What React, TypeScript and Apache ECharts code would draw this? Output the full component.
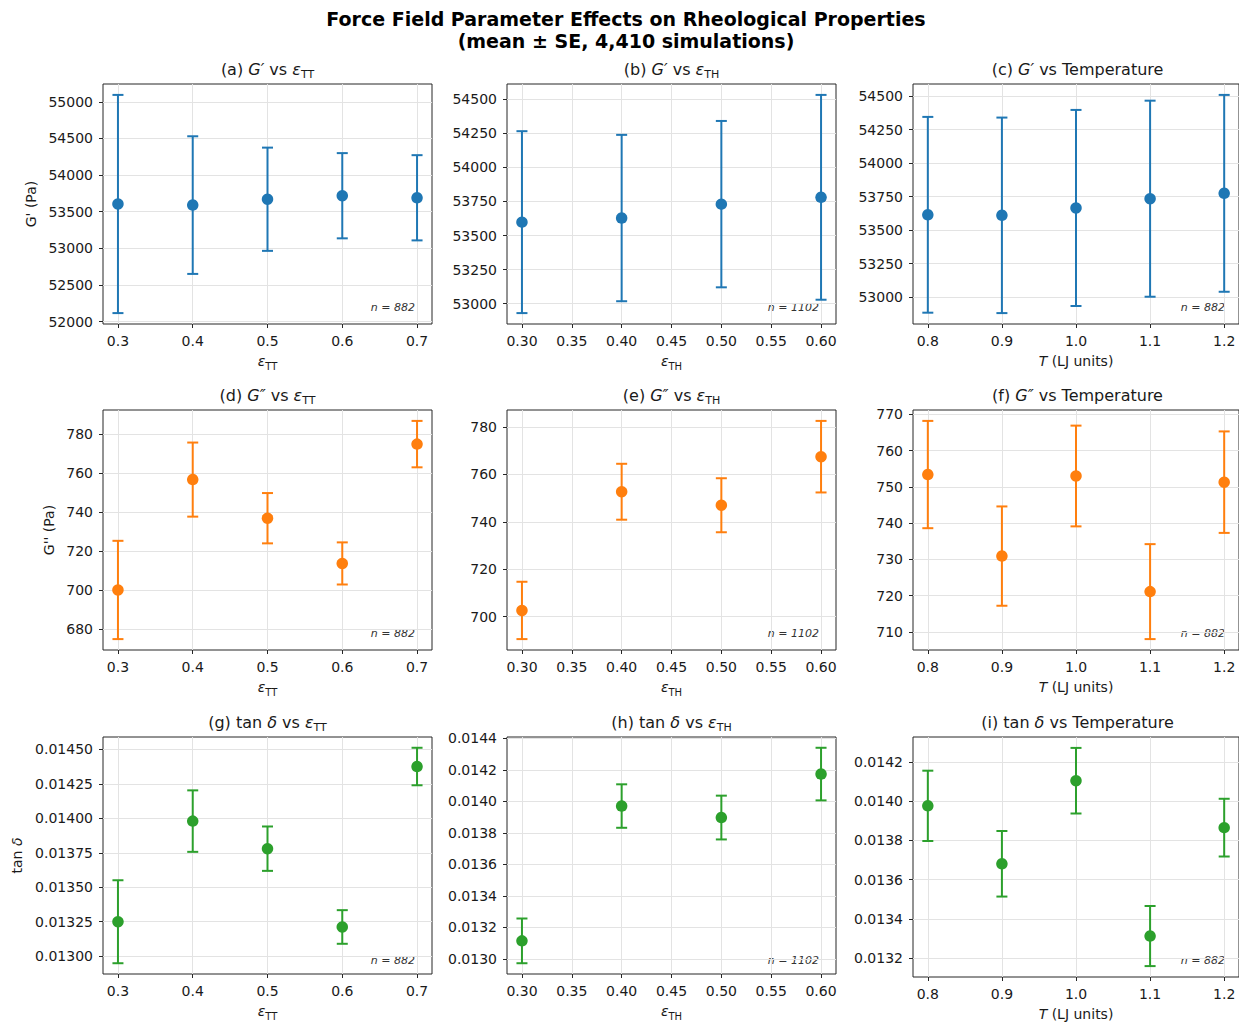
import React, { useEffect, useRef } from "react";
import * as echarts from "echarts";

// Parameter levels
const epsTT = [0.3, 0.4, 0.5, 0.6, 0.7];
const epsTH = [0.3, 0.4, 0.5, 0.6];
const temps = [0.8, 0.9, 1.0, 1.1, 1.2];

// Storage modulus G' (Pa): mean and standard error
const gpTTMean = [53605, 53590, 53670, 53718, 53690];
const gpTTSe = [1490, 940, 705, 582, 582];
const gpTHMean = [53598, 53628, 53730, 53780];
const gpTHSe = [667, 610, 610, 751];
const gpTMean = [53614, 53610, 53665, 53734, 53774];
const gpTSe = [730, 729, 731, 731, 734];

// Loss modulus G'' (Pa)
const gppTTMean = [700.0, 756.6, 736.8, 713.6, 774.8];
const gppTTSe = [25.2, 19.0, 12.9, 10.8, 11.9];
const gppTHMean = [702.6, 752.7, 747.0, 767.5];
const gppTHSe = [12.1, 11.8, 11.4, 15.1];
const gppTMean = [753.4, 730.9, 753.0, 721.1, 751.3];
const gppTSe = [14.8, 13.7, 13.9, 13.1, 14.0];

// Loss tangent tan(delta)
const tanTTMean = [0.01325, 0.01398, 0.01378, 0.013212, 0.014376];
const tanTTSe = [0.000301, 0.000223, 0.000161, 0.000122, 0.000136];
const tanTHMean = [0.013115, 0.013971, 0.013898, 0.014174];
const tanTHSe = [0.000142, 0.000138, 0.000139, 0.000167];
const tanTMean = [0.013976, 0.013681, 0.014104, 0.013313, 0.013865];
const tanTSe = [0.000179, 0.000167, 0.000167, 0.000153, 0.000147];

// Sample counts per group
const nTT = 882;
const nTH = 1102;
const nT = 882;

// Tick values
const xTicksTT = [0.3, 0.4, 0.5, 0.6, 0.7];
const xTicksTH = [0.3, 0.35, 0.4, 0.45, 0.5, 0.55, 0.6];
const xTicksT = [0.8, 0.9, 1.0, 1.1, 1.2];
const yTicksA = [52000, 52500, 53000, 53500, 54000, 54500, 55000];
const yTicksB = [53000, 53250, 53500, 53750, 54000, 54250, 54500];
const yTicksC = [53000, 53250, 53500, 53750, 54000, 54250, 54500];
const yTicksD = [680, 700, 720, 740, 760, 780];
const yTicksE = [700, 720, 740, 760, 780];
const yTicksF = [710, 720, 730, 740, 750, 760, 770];
const yTicksG = [0.013, 0.01325, 0.0135, 0.01375, 0.014, 0.01425, 0.0145];
const yTicksH = [0.013, 0.0132, 0.0134, 0.0136, 0.0138, 0.014, 0.0142, 0.0144];
const yTicksI = [0.0132, 0.0134, 0.0136, 0.0138, 0.014, 0.0142];

const BLUE = "#1f77b4";
const ORANGE = "#ff7f0e";
const GREEN = "#2ca02c";
const FONT = "DejaVu Sans";
const INK = "#1a1a1a";
const FRAME = "#262626";

const rich = {
  n: { fontSize: 16, fontFamily: FONT, color: INK, lineHeight: 22 },
  it: { fontSize: 16, fontFamily: FONT, fontStyle: "italic", color: INK, lineHeight: 22 },
  sub: { fontSize: 11, fontFamily: FONT, color: INK, lineHeight: 12, verticalAlign: "bottom" },
};
const richAxis = {
  n: { fontSize: 14, fontFamily: FONT, color: INK, lineHeight: 20 },
  it: { fontSize: 14, fontFamily: FONT, fontStyle: "italic", color: INK, lineHeight: 20 },
  sub: { fontSize: 10, fontFamily: FONT, color: INK, lineHeight: 11, verticalAlign: "bottom" },
};

const xNameTT = "{it|ε}{sub|TT}";
const xNameTH = "{it|ε}{sub|TH}";
const xNameT = "{it|T}{n| (LJ units)}";

const f1 = (v: number) => v.toFixed(1);
const f2 = (v: number) => v.toFixed(2);
const fInt = (v: number) => String(Math.round(v));
const f4 = (v: number) => v.toFixed(4);
const f5 = (v: number) => v.toFixed(5);

type Panel = {
  title: string;
  xs: number[];
  mean: number[];
  se: number[];
  color: string;
  xTicks: number[];
  yTicks: number[];
  xFmt: (v: number) => string;
  yFmt: (v: number) => string;
  xName: string;
  yName?: string;
  yGap?: number;
  n: number;
};

const panels: Panel[] = [
  { title: "{n|(a) }{it|G′}{n| vs }{it|ε}{sub|TT}", xs: epsTT, mean: gpTTMean, se: gpTTSe, color: BLUE, xTicks: xTicksTT, yTicks: yTicksA, xFmt: f1, yFmt: fInt, xName: xNameTT, yName: "{n|G' (Pa)}", yGap: 62, n: nTT },
  { title: "{n|(b) }{it|G′}{n| vs }{it|ε}{sub|TH}", xs: epsTH, mean: gpTHMean, se: gpTHSe, color: BLUE, xTicks: xTicksTH, yTicks: yTicksB, xFmt: f2, yFmt: fInt, xName: xNameTH, n: nTH },
  { title: "{n|(c) }{it|G′}{n| vs Temperature}", xs: temps, mean: gpTMean, se: gpTSe, color: BLUE, xTicks: xTicksT, yTicks: yTicksC, xFmt: f1, yFmt: fInt, xName: xNameT, n: nT },
  { title: "{n|(d) }{it|G″}{n| vs }{it|ε}{sub|TT}", xs: epsTT, mean: gppTTMean, se: gppTTSe, color: ORANGE, xTicks: xTicksTT, yTicks: yTicksD, xFmt: f1, yFmt: fInt, xName: xNameTT, yName: "{n|G'' (Pa)}", yGap: 44, n: nTT },
  { title: "{n|(e) }{it|G″}{n| vs }{it|ε}{sub|TH}", xs: epsTH, mean: gppTHMean, se: gppTHSe, color: ORANGE, xTicks: xTicksTH, yTicks: yTicksE, xFmt: f2, yFmt: fInt, xName: xNameTH, n: nTH },
  { title: "{n|(f) }{it|G″}{n| vs Temperature}", xs: temps, mean: gppTMean, se: gppTSe, color: ORANGE, xTicks: xTicksT, yTicks: yTicksF, xFmt: f1, yFmt: fInt, xName: xNameT, n: nT },
  { title: "{n|(g) tan }{it|δ}{n| vs }{it|ε}{sub|TT}", xs: epsTT, mean: tanTTMean, se: tanTTSe, color: GREEN, xTicks: xTicksTT, yTicks: yTicksG, xFmt: f1, yFmt: f5, xName: xNameTT, yName: "{n|tan }{it|δ}", yGap: 76, n: nTT },
  { title: "{n|(h) tan }{it|δ}{n| vs }{it|ε}{sub|TH}", xs: epsTH, mean: tanTHMean, se: tanTHSe, color: GREEN, xTicks: xTicksTH, yTicks: yTicksH, xFmt: f2, yFmt: f4, xName: xNameTH, n: nTH },
  { title: "{n|(i) tan }{it|δ}{n| vs Temperature}", xs: temps, mean: tanTMean, se: tanTSe, color: GREEN, xTicks: xTicksT, yTicks: yTicksI, xFmt: f1, yFmt: f4, xName: xNameT, n: nT },
];

// Subplot placement (pixels)
const colLeft = [103, 507, 913];
const rowTop = [84, 410, 737];
const PW = 329;
const PH = 240;

// Matplotlib-style 5% autoscale margin
function padded(lo: number, hi: number) {
  const p = (hi - lo) * 0.05;
  return [lo - p, hi + p];
}

function buildOption() {
  const grid: any[] = [];
  const xAxis: any[] = [];
  const yAxis: any[] = [];
  const series: any[] = [];
  const graphic: any[] = [
    {
      type: "text",
      x: 626,
      y: 19,
      style: { text: "Force Field Parameter Effects on Rheological Properties", fontFamily: FONT, fontSize: 19, fontWeight: "bold", fill: "#000", align: "center", verticalAlign: "middle" },
    },
    {
      type: "text",
      x: 626,
      y: 41,
      style: { text: "(mean ± SE, 4,410 simulations)", fontFamily: FONT, fontSize: 19, fontWeight: "bold", fill: "#000", align: "center", verticalAlign: "middle" },
    },
  ];

  panels.forEach((p, i) => {
    const left = colLeft[i % 3];
    const top = rowTop[Math.floor(i / 3)];
    grid.push({ left, top, width: PW, height: PH, show: true, borderColor: FRAME, borderWidth: 1, backgroundColor: "transparent", containLabel: false });

    const [xMin, xMax] = padded(Math.min(...p.xs), Math.max(...p.xs));
    const lows = p.mean.map((m, k) => m - p.se[k]);
    const highs = p.mean.map((m, k) => m + p.se[k]);
    const [yMin, yMax] = padded(Math.min(...lows), Math.max(...highs));

    xAxis.push({
      type: "value",
      gridIndex: i,
      min: xMin,
      max: xMax,
      axisLine: { show: false, onZero: false },
      axisTick: { show: true, length: 4, lineStyle: { color: FRAME, width: 1 }, customValues: p.xTicks },
      axisLabel: { customValues: p.xTicks, formatter: (v: number) => p.xFmt(v), color: INK, fontSize: 14, fontFamily: FONT, margin: 10 },
      splitLine: { show: true, lineStyle: { color: "#e3e3e3", width: 1 } },
      name: p.xName,
      nameLocation: "middle",
      nameGap: 27,
      nameTextStyle: { rich: richAxis },
    });
    yAxis.push({
      type: "value",
      gridIndex: i,
      min: yMin,
      max: yMax,
      axisLine: { show: false, onZero: false },
      axisTick: { show: true, length: 4, lineStyle: { color: FRAME, width: 1 }, customValues: p.yTicks },
      axisLabel: { customValues: p.yTicks, formatter: (v: number) => p.yFmt(v), color: INK, fontSize: 14, fontFamily: FONT, margin: 10 },
      splitLine: { show: true, lineStyle: { color: "#e3e3e3", width: 1 } },
      name: p.yName || "",
      nameLocation: "middle",
      nameGap: p.yGap || 50,
      nameTextStyle: { rich: richAxis },
    });

    const color = p.color;
    series.push({
      type: "custom",
      xAxisIndex: i,
      yAxisIndex: i,
      z: 2,
      encode: { x: 0, y: [1, 2] },
      data: p.xs.map((x, k) => [x, lows[k], highs[k]]),
      renderItem: (_params: any, api: any) => {
        const x = api.value(0);
        const a = api.coord([x, api.value(1)]);
        const b = api.coord([x, api.value(2)]);
        const cap = 5.5;
        const st = { stroke: color, lineWidth: 2 };
        return {
          type: "group",
          children: [
            { type: "line", shape: { x1: a[0], y1: a[1], x2: b[0], y2: b[1] }, style: st },
            { type: "line", shape: { x1: a[0] - cap, y1: a[1], x2: a[0] + cap, y2: a[1] }, style: st },
            { type: "line", shape: { x1: b[0] - cap, y1: b[1], x2: b[0] + cap, y2: b[1] }, style: st },
          ],
        };
      },
    });
    series.push({
      type: "scatter",
      xAxisIndex: i,
      yAxisIndex: i,
      z: 3,
      symbol: "circle",
      symbolSize: 11.5,
      itemStyle: { color, opacity: 1 },
      data: p.xs.map((x, k) => [x, p.mean[k]]),
    });

    // Panel title
    graphic.push({
      type: "text",
      x: left + PW / 2,
      y: top - 15,
      style: { text: p.title, rich, align: "center", verticalAlign: "middle", fontFamily: FONT, fontSize: 16, fill: INK },
    });
    // Sample count annotation
    graphic.push({
      type: "text",
      x: left + PW - 17,
      y: top + PH - 11,
      style: { text: `n = ${p.n}`, fontFamily: FONT, fontSize: 11, fontStyle: "italic", fill: "#333", align: "right", verticalAlign: "bottom" },
    });
  });

  return {
    animation: false,
    backgroundColor: "#ffffff",
    grid,
    xAxis,
    yAxis,
    series,
    graphic,
  };
}

export default function App() {
  const ref = useRef<HTMLDivElement>(null);
  useEffect(() => {
    if (!ref.current) return;
    const chart = echarts.init(ref.current, undefined, { renderer: "svg" });
    chart.setOption(buildOption() as any);
    return () => chart.dispose();
  }, []);
  return (
    <div
      ref={ref}
      style={{ position: "absolute", left: 0, top: 0, width: 1239, height: 1022, background: "#fff" }}
    />
  );
}
